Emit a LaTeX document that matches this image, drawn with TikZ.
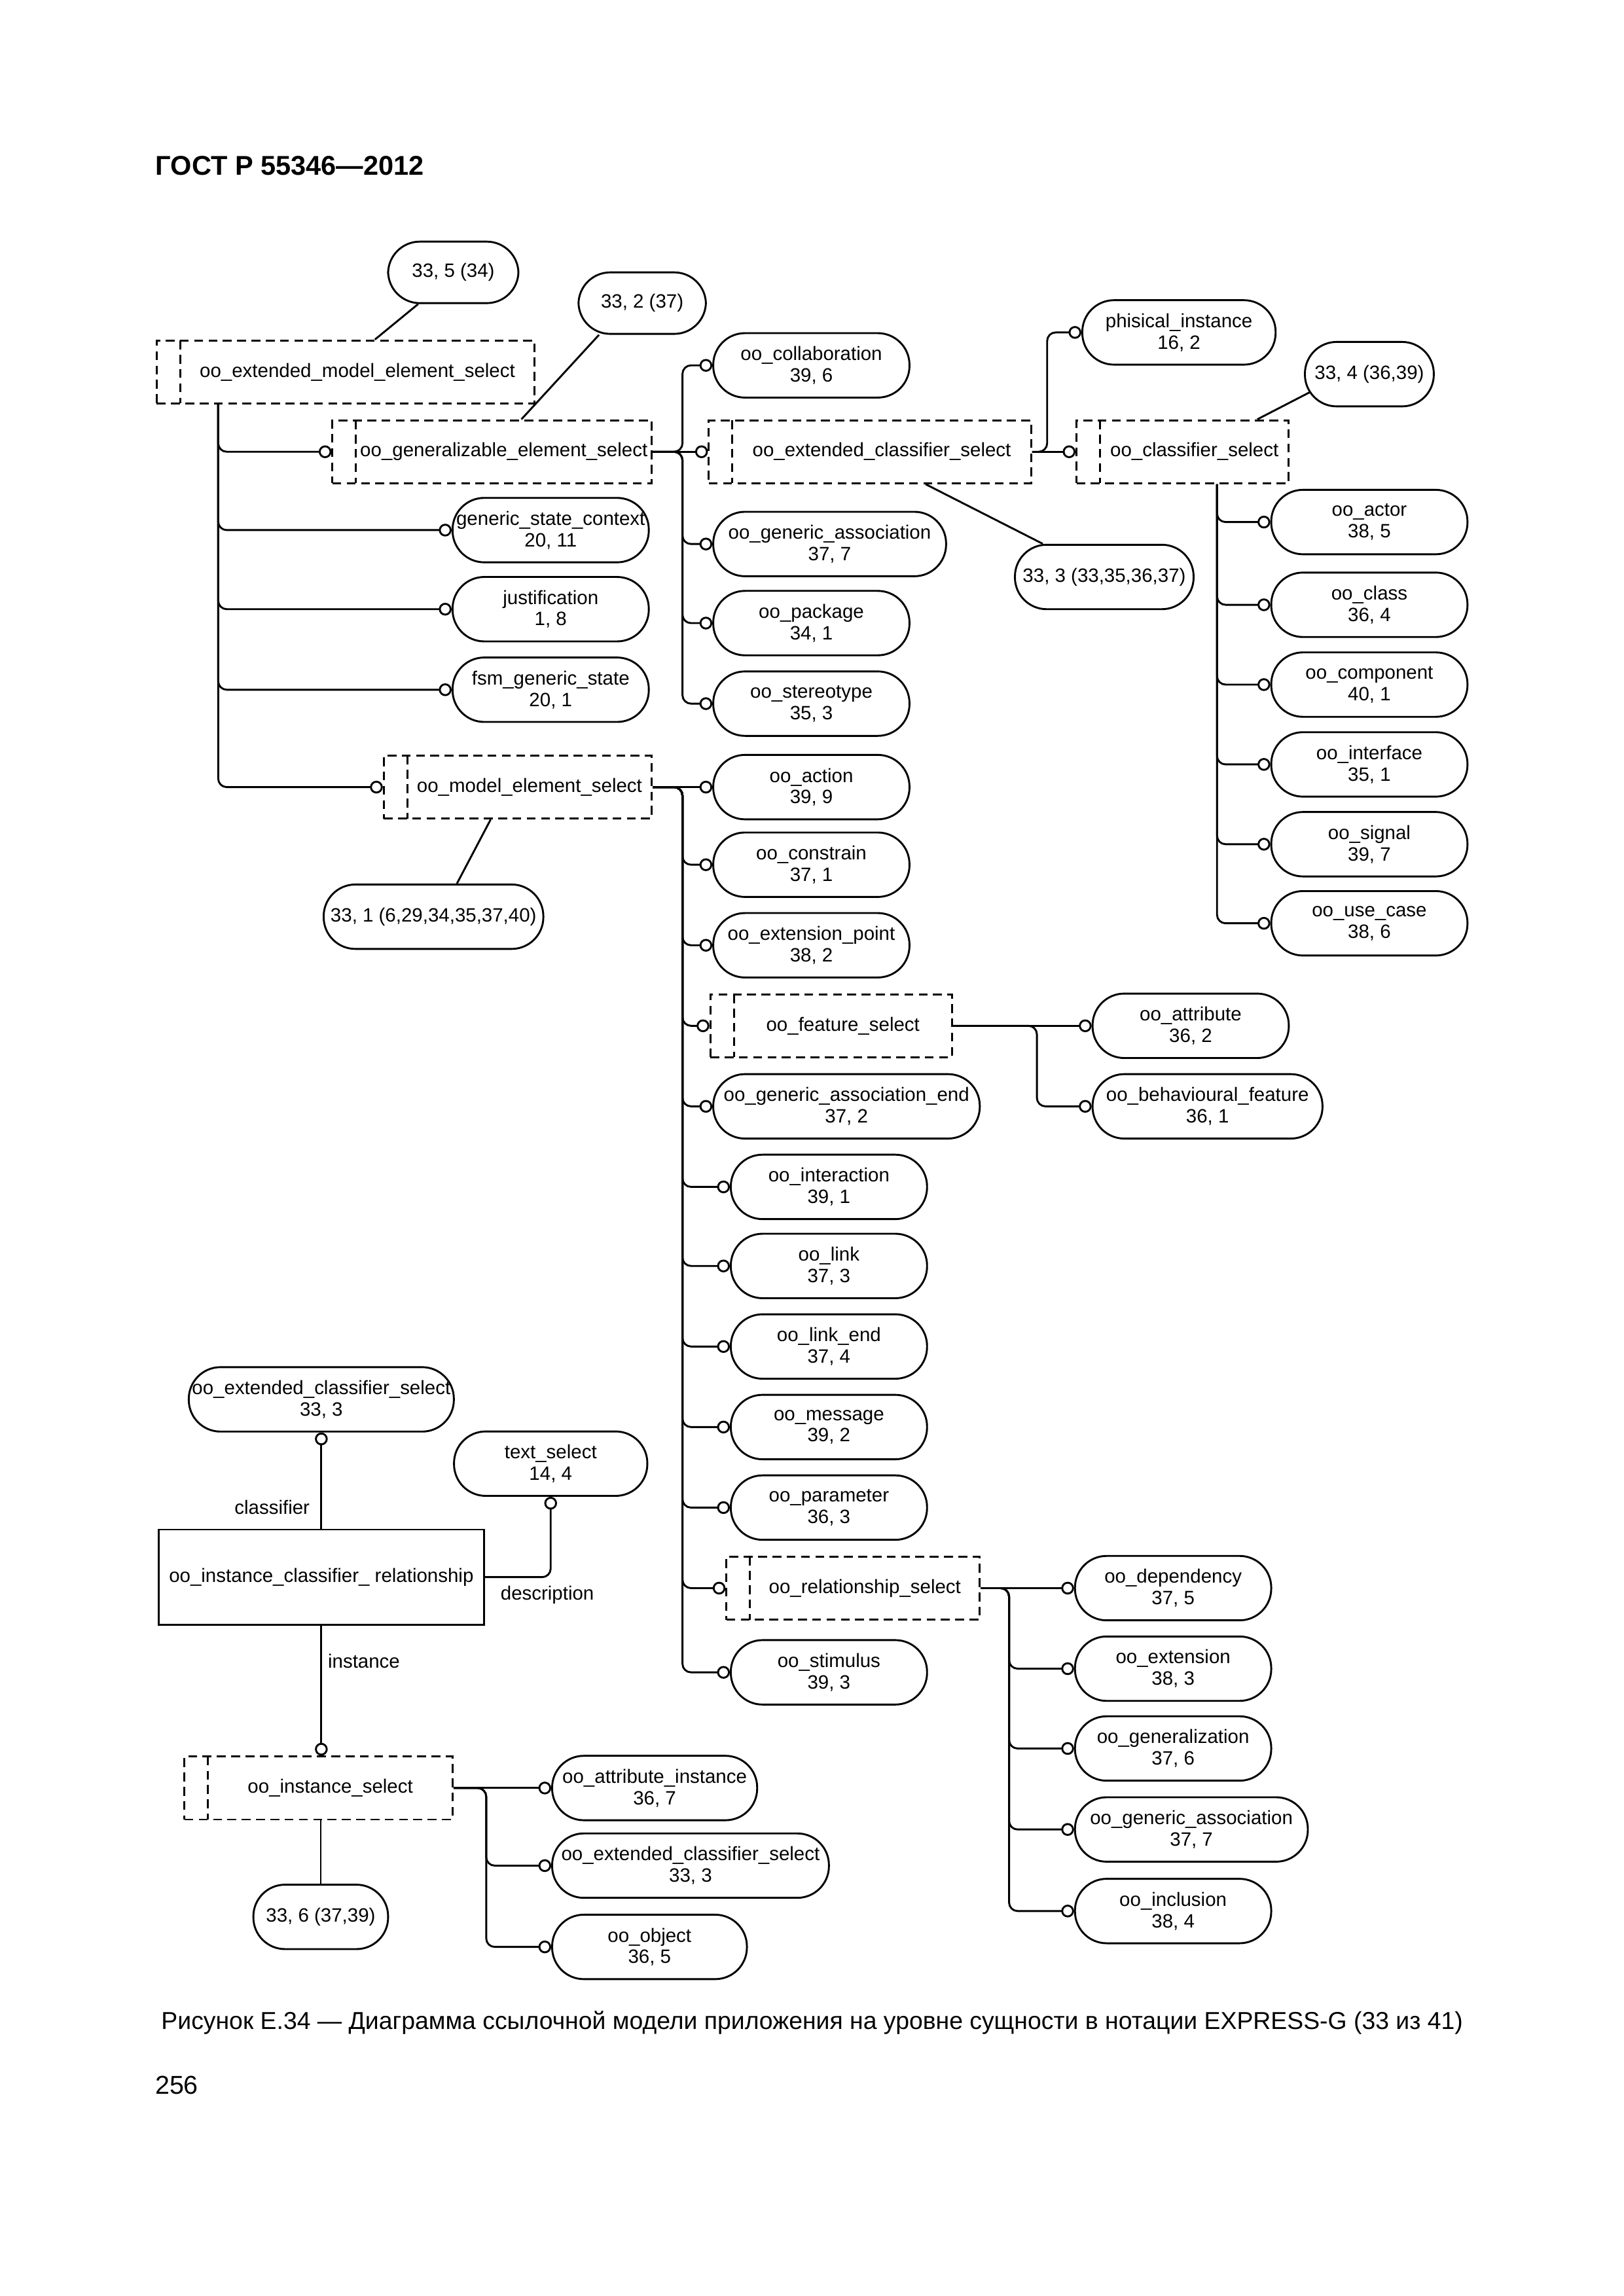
\documentclass[tikz,border=0pt]{standalone}
\usepackage{fontspec}
\setmainfont{Liberation Sans}
\usetikzlibrary{arrows.meta,calc,positioning}

\newcommand{\dpu}{0.18945mm}

\tikzset{
  selbox/.style={draw, line width=0.7pt, dash pattern=on 1.15mm off 0.7mm,
    minimum width=#1*\dpu, minimum height=43*\dpu, inner sep=0pt,
    execute at begin node=\hspace*{3.05mm},
    path picture={\draw[line width=0.7pt, dash pattern=on 1.15mm off 0.7mm]
      ([xshift=3.05mm]path picture bounding box.north west) --
      ([xshift=3.05mm]path picture bounding box.south west);}},
  entity/.style={draw, line width=0.7pt, rounded corners=4.1mm,
    minimum width=#1*\dpu, minimum height=44*\dpu, inner sep=0pt, align=center},
  conn/.style={line width=0.7pt, rounded corners=1.1mm, -{Circle[open,length=1.65mm,width=1.65mm]}},
  refline/.style={line width=0.7pt},
}

\begin{document}
\begin{tikzpicture}[x=\dpu, y=-\dpu,
    every node/.style={font=\fontsize{7.1}{7.9}\selectfont}]
  \useasboundingbox (0,0) rectangle (1108.5,1567.9);

  % page text
  \node[anchor=west, inner sep=0pt, font=\bfseries\fontsize{10}{12}\selectfont] (title) at (106,113) {ГОСТ Р 55346—2012};
  \node[font=\fontsize{9}{11}\selectfont] (caption) at (554.5,1381.5)
    {Рисунок Е.34 — Диаграмма ссылочной модели приложения на уровне сущности в нотации EXPRESS-G (33 из 41)};
  \node[anchor=west, inner sep=0pt, font=\fontsize{9.5}{11}\selectfont] (pagenum) at (105.6,1424) {256};

  % select types
  \node[selbox=258] (emes) at (236,254) {oo\_extended\_model\_element\_select};
  \node[selbox=218] (gees) at (336,308.5) {oo\_generalizable\_element\_select};
  \node[selbox=183] (mes) at (353.5,537.5) {oo\_model\_element\_select};
  \node[selbox=220] (ecs) at (594,308.5) {oo\_extended\_classifier\_select};
  \node[selbox=145] (cs) at (807.5,308.5) {oo\_classifier\_select};
  \node[selbox=165] (fs) at (567.5,700.5) {oo\_feature\_select};
  \node[selbox=173] (rs) at (582.5,1084.5) {oo\_relationship\_select};
  \node[selbox=183] (is) at (217.5,1221) {oo\_instance\_select};

  % page references
  \node[entity=89, minimum height=42*\dpu] (ref335) at (309.5,186) {33, 5 (34)};
  \node[entity=87, minimum height=42*\dpu] (ref332) at (438.5,207) {33, 2 (37)};
  \node[entity=150] (ref331) at (296,626) {33, 1 (6,29,34,35,37,40)};
  \node[entity=122] (ref333) at (754,394) {33, 3 (33,35,36,37)};
  \node[entity=88] (ref334) at (935,255.5) {33, 4 (36,39)};
  \node[entity=92] (ref336) at (219,1309) {33, 6 (37,39)};

  % under oo_extended_model_element_select
  \node[entity=134] (gsc) at (376,362) {generic\_state\_context\\20, 11};
  \node[entity=134] (just) at (376,416) {justification\\1, 8};
  \node[entity=134] (fgs) at (376,471) {fsm\_generic\_state\\20, 1};

  % under oo_generalizable_element_select
  \node[entity=134] (collab) at (554,249.5) {oo\_collaboration\\39, 6};
  \node[entity=159] (genassoc) at (566.5,371.5) {oo\_generic\_association\\37, 7};
  \node[entity=134] (package) at (554,425.5) {oo\_package\\34, 1};
  \node[entity=134] (stereo) at (554,480.5) {oo\_stereotype\\35, 3};
  \node[entity=132] (phys) at (805,227) {phisical\_instance\\16, 2};

  % under oo_classifier_select
  \node[entity=134] (actor) at (935,356.5) {oo\_actor\\38, 5};
  \node[entity=134] (class) at (935,413) {oo\_class\\36, 4};
  \node[entity=134] (component) at (935,467.5) {oo\_component\\40, 1};
  \node[entity=134] (interface) at (935,522) {oo\_interface\\35, 1};
  \node[entity=134] (signal) at (935,576.5) {oo\_signal\\39, 7};
  \node[entity=134] (usecase) at (935,630.5) {oo\_use\_case\\38, 6};

  % under oo_model_element_select
  \node[entity=134] (action) at (554,537.5) {oo\_action\\39, 9};
  \node[entity=134] (constrain) at (554,590.5) {oo\_constrain\\37, 1};
  \node[entity=134] (extpoint) at (554,645.5) {oo\_extension\_point\\38, 2};
  \node[entity=182] (assocend) at (578,755.5) {oo\_generic\_association\_end\\37, 2};
  \node[entity=134] (interaction) at (566,810.5) {oo\_interaction\\39, 1};
  \node[entity=134] (link) at (566,864.5) {oo\_link\\37, 3};
  \node[entity=134] (linkend) at (566,919.5) {oo\_link\_end\\37, 4};
  \node[entity=134] (message) at (566,974.5) {oo\_message\\39, 2};
  \node[entity=134] (parameter) at (566,1029.5) {oo\_parameter\\36, 3};
  \node[entity=134] (stimulus) at (566,1142) {oo\_stimulus\\39, 3};

  % under oo_feature_select
  \node[entity=134] (attribute) at (813,700.5) {oo\_attribute\\36, 2};
  \node[entity=157] (behav) at (824.5,755.5) {oo\_behavioural\_feature\\36, 1};

  % under oo_relationship_select
  \node[entity=134] (dependency) at (801,1084.5) {oo\_dependency\\37, 5};
  \node[entity=134] (extension) at (801,1139.5) {oo\_extension\\38, 3};
  \node[entity=134] (generalization) at (801,1194) {oo\_generalization\\37, 6};
  \node[entity=159] (genassocb) at (813.5,1249.3) {oo\_generic\_association\\37, 7};
  \node[entity=134] (inclusion) at (801,1305) {oo\_inclusion\\38, 4};

  % instance classifier relationship
  \node[entity=181] (ecsb) at (219.4,955.6) {oo\_extended\_classifier\_select\\33, 3};
  \node[entity=132] (textsel) at (376,999.5) {text\_select\\14, 4};
  \node[draw, line width=0.7pt, minimum width=222*\dpu, minimum height=65*\dpu, inner sep=0pt] (icr) at (219.4,1077)
    {oo\_instance\_classifier\_ relationship};
  \node (lclass) at (185.8,1029.2) {classifier};
  \node (ldesc) at (373.7,1089) {description};
  \node (linst) at (248.5,1134.5) {instance};
  \node[entity=140] (attrinst) at (447,1221) {oo\_attribute\_instance\\36, 7};
  \node[entity=189] (ecsc) at (471.5,1274) {oo\_extended\_classifier\_select\\33, 3};
  \node[entity=133] (object) at (443.5,1329.5) {oo\_object\\36, 5};

  % trunk positions
  \coordinate (tEmes) at (149,0);
  \coordinate (tGees) at (466,0);
  \coordinate (tEcs) at (715,0);
  \coordinate (tCs) at (831,0);
  \coordinate (tMes) at (466,0);
  \coordinate (tFs) at (708,0);
  \coordinate (tRs) at (689,0);
  \coordinate (tIs) at (332,0);

  % connectors
  \draw[conn] (emes.south -| tEmes) |- (gees.west);
  \draw[conn] (emes.south -| tEmes) |- (gsc.west);
  \draw[conn] (emes.south -| tEmes) |- (just.west);
  \draw[conn] (emes.south -| tEmes) |- (fgs.west);
  \draw[conn] (emes.south -| tEmes) |- (mes.west);

  \draw[conn] (gees.east) -- (ecs.west);
  \draw[conn] (gees.east) -- (gees.east -| tGees) |- (collab.west);
  \draw[conn] (gees.east) -- (gees.east -| tGees) |- (genassoc.west);
  \draw[conn] (gees.east) -- (gees.east -| tGees) |- (package.west);
  \draw[conn] (gees.east) -- (gees.east -| tGees) |- (stereo.west);

  \draw[conn] (ecs.east) -- (cs.west);
  \draw[conn] (ecs.east) -- (ecs.east -| tEcs) |- (phys.west);

  \draw[conn] (cs.south -| tCs) |- (actor.west);
  \draw[conn] (cs.south -| tCs) |- (class.west);
  \draw[conn] (cs.south -| tCs) |- (component.west);
  \draw[conn] (cs.south -| tCs) |- (interface.west);
  \draw[conn] (cs.south -| tCs) |- (signal.west);
  \draw[conn] (cs.south -| tCs) |- (usecase.west);

  \draw[conn] (mes.east) -- (action.west);
  \draw[conn] (mes.east) -- (mes.east -| tMes) |- (constrain.west);
  \draw[conn] (mes.east) -- (mes.east -| tMes) |- (extpoint.west);
  \draw[conn] (mes.east) -- (mes.east -| tMes) |- (fs.west);
  \draw[conn] (mes.east) -- (mes.east -| tMes) |- (assocend.west);
  \draw[conn] (mes.east) -- (mes.east -| tMes) |- (interaction.west);
  \draw[conn] (mes.east) -- (mes.east -| tMes) |- (link.west);
  \draw[conn] (mes.east) -- (mes.east -| tMes) |- (linkend.west);
  \draw[conn] (mes.east) -- (mes.east -| tMes) |- (message.west);
  \draw[conn] (mes.east) -- (mes.east -| tMes) |- (parameter.west);
  \draw[conn] (mes.east) -- (mes.east -| tMes) |- (rs.west);
  \draw[conn] (mes.east) -- (mes.east -| tMes) |- (stimulus.west);

  \draw[conn] (fs.east) -- (attribute.west);
  \draw[conn] (fs.east) -- (fs.east -| tFs) |- (behav.west);

  \draw[conn] (rs.east) -- (dependency.west);
  \draw[conn] (rs.east) -- (rs.east -| tRs) |- (extension.west);
  \draw[conn] (rs.east) -- (rs.east -| tRs) |- (generalization.west);
  \draw[conn] (rs.east) -- (rs.east -| tRs) |- (genassocb.west);
  \draw[conn] (rs.east) -- (rs.east -| tRs) |- (inclusion.west);

  \draw[conn] (icr.north) -- (icr.north |- ecsb.south);
  \draw[conn] (icr.east) -| (textsel.south);
  \draw[conn] (icr.south) -- (icr.south |- is.north);

  \draw[conn] (is.east) -- (attrinst.west);
  \draw[conn] (is.east) -- (is.east -| tIs) |- (ecsc.west);
  \draw[conn] (is.east) -- (is.east -| tIs) |- (object.west);

  % page reference lines
  \draw[refline] ($(ref335.south)+(-24,0)$) -- ($(emes.north)+(20,0)$);
  \draw[refline] ($(ref332.south)+(-29.5,0)$) -- ($(gees.north)+(20,0)$);
  \draw[refline] ($(mes.south)+(-18.5,0)$) -- ($(ref331.north)+(16,0)$);
  \draw[refline] ($(ecs.south)+(38,0)$) -- ($(ref333.north)+(-42,0)$);
  \draw[refline] ($(cs.north)+(51,0)$) -- ($(ref334.center)+(-40,12)$);
  \draw[refline] (is.south -| ref336.north) -- (ref336.north);
\end{tikzpicture}
\end{document}
